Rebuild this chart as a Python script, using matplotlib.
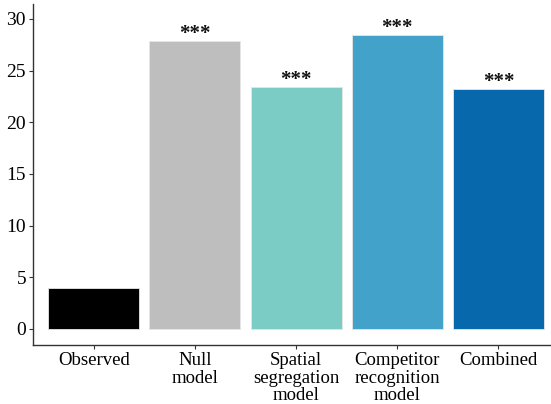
import numpy as np
import matplotlib
matplotlib.use("Agg")
import matplotlib.pyplot as plt

# values
models = ["Observed", "Null\nmodel", "Spatial\nsegregation\nmodel",
          "Competitor\nrecognition\nmodel", "Combined"]
values = [4.0, 27.9, 23.4, 28.45, 23.25]
signif = ["", "***", "***", "***", "***"]
colours = ["#000000", "#BEBEBE", "#7BCCC4", "#43A2CA", "#0868AC"]

plt.rcParams['font.family'] = ['Liberation Serif', 'DejaVu Serif']

fig = plt.figure(figsize=(5.51, 4.04), dpi=100)
ax = fig.add_axes([33/551, (404-345)/404, 1 - 33/551, (345-4)/404])

x = np.arange(1, len(models) + 1)
ax.bar(x, values, width=0.9, color=colours, edgecolor="#e6e6e6", linewidth=0.6)

# significance stars above the model bars
for xi, v, s in zip(x, values, signif):
    if s:
        ax.text(xi, v - 0.3, s, ha="center", va="bottom", fontsize=15,
                fontweight="bold", color="#111111")

ax.set_xlim(0.4, 5.52)
ax.set_ylim(-1.55, 31.45)
ax.set_yticks([0, 5, 10, 15, 20, 25, 30])
ax.set_xticks(x)
ax.set_xticklabels(models, fontsize=13.5, linespacing=1.05)
ax.tick_params(axis="y", labelsize=14, length=3, width=0.8, color="#333333", pad=2)
ax.tick_params(axis="x", length=3, width=0.8, color="#333333", pad=2)

for side in ["top", "right"]:
    ax.spines[side].set_visible(False)
for side in ["left", "bottom"]:
    ax.spines[side].set_color("#333333")
    ax.spines[side].set_linewidth(1.0)

fig.savefig("out.png", dpi=100)
